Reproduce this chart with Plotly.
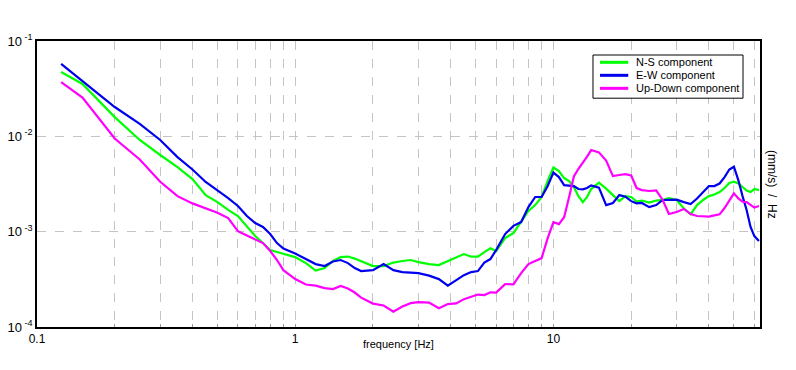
import plotly.graph_objects as go

freq = [0.124, 0.15, 0.2, 0.25, 0.3, 0.35, 0.4, 0.45, 0.5, 0.55, 0.6, 0.65, 0.7, 0.75, 0.8, 0.85, 0.9,
        1.0, 1.1, 1.2, 1.3, 1.4, 1.5, 1.6, 1.7, 1.8, 2.0, 2.2, 2.4, 2.6, 2.8, 3.0, 3.3, 3.6, 3.9, 4.2,
        4.5, 4.8, 5.1, 5.4, 5.7, 6.0, 6.5, 7.0, 7.5, 8.0, 8.5, 9.0, 9.5, 10, 10.5, 11, 11.5, 12, 12.5,
        13, 13.5, 14, 15, 16, 17, 18, 19, 20, 21, 22, 23.5, 25, 26.5, 28, 30, 32, 34, 36, 38, 40, 42,
        44, 46, 48, 50, 52, 54, 56, 58, 60, 62.5]

ns = [4.73e-2, 3.54e-2, 1.59e-2, 9.15e-3, 6.37e-3, 4.76e-3, 3.56e-3, 2.42e-3, 2.04e-3, 1.69e-3,
      1.46e-3, 1.15e-3, 8.99e-4, 7.59e-4, 6.41e-4, 6.11e-4, 5.82e-4, 5.41e-4, 4.68e-4, 3.91e-4,
      4.15e-4, 4.92e-4, 5.41e-4, 5.48e-4, 5.22e-4, 4.92e-4, 4.36e-4, 4.36e-4, 4.74e-4, 4.92e-4,
      5.04e-4, 4.80e-4, 4.57e-4, 4.46e-4, 4.92e-4, 5.35e-4, 5.82e-4, 5.46e-4, 5.46e-4, 6.11e-4,
      6.68e-4, 6.26e-4, 8.57e-4, 9.67e-4, 1.29e-3, 1.65e-3, 1.90e-3, 2.31e-3, 3.40e-3, 4.71e-3,
      4.32e-3, 3.65e-3, 3.40e-3, 2.94e-3, 2.36e-3, 2.04e-3, 2.31e-3, 2.80e-3, 3.26e-3, 2.83e-3,
      2.42e-3, 2.09e-3, 2.36e-3, 2.31e-3, 2.07e-3, 2.12e-3, 2.02e-3, 2.12e-3, 2.15e-3, 2.25e-3,
      2.15e-3, 1.75e-3, 1.53e-3, 1.90e-3, 2.15e-3, 2.36e-3, 2.45e-3, 2.60e-3, 2.87e-3, 3.24e-3,
      3.34e-3, 3.20e-3, 2.94e-3, 2.70e-3, 2.60e-3, 2.80e-3, 2.73e-3]

ew = [5.74e-2, 3.80e-2, 2.03e-2, 1.35e-2, 9.15e-3, 6.06e-3, 4.49e-3, 3.32e-3, 2.73e-3, 2.25e-3,
      1.86e-3, 1.46e-3, 1.23e-3, 1.12e-3, 9.44e-4, 7.59e-4, 6.65e-4, 5.89e-4, 5.16e-4, 4.57e-4,
      4.36e-4, 4.86e-4, 5.04e-4, 4.68e-4, 4.15e-4, 3.86e-4, 3.95e-4, 4.57e-4, 3.95e-4, 3.77e-4,
      3.72e-4, 3.68e-4, 3.46e-4, 3.18e-4, 2.72e-4, 3.11e-4, 3.50e-4, 3.77e-4, 3.86e-4, 4.74e-4,
      5.16e-4, 6.41e-4, 9.44e-4, 1.15e-3, 1.26e-3, 1.81e-3, 2.31e-3, 2.31e-3, 3.01e-3, 4.17e-3,
      3.74e-3, 3.08e-3, 3.05e-3, 3.01e-3, 2.80e-3, 2.78e-3, 2.87e-3, 3.06e-3, 2.90e-3, 1.90e-3,
      2.00e-3, 2.42e-3, 2.33e-3, 2.09e-3, 1.98e-3, 2.00e-3, 1.81e-3, 1.90e-3, 2.15e-3, 2.15e-3,
      2.17e-3, 2.04e-3, 1.95e-3, 2.23e-3, 2.57e-3, 3.01e-3, 3.01e-3, 3.20e-3, 3.74e-3, 4.49e-3,
      4.80e-3, 3.48e-3, 2.36e-3, 1.69e-3, 1.12e-3, 8.99e-4, 7.97e-4]

ud = [3.71e-2, 2.55e-2, 9.48e-3, 5.71e-3, 3.34e-3, 2.36e-3, 1.98e-3, 1.77e-3, 1.58e-3, 1.39e-3,
      1.01e-3, 9.10e-4, 8.36e-4, 7.59e-4, 6.26e-4, 5.04e-4, 3.95e-4, 3.18e-4, 2.79e-4, 2.72e-4,
      2.56e-4, 2.50e-4, 2.69e-4, 2.53e-4, 2.30e-4, 2.03e-4, 1.76e-4, 1.68e-4, 1.45e-4, 1.64e-4,
      1.78e-4, 1.82e-4, 1.80e-4, 1.57e-4, 1.74e-4, 1.77e-4, 1.96e-4, 2.08e-4, 2.19e-4, 2.16e-4,
      2.31e-4, 2.30e-4, 2.82e-4, 2.80e-4, 3.68e-4, 4.57e-4, 4.95e-4, 5.28e-4, 8.57e-4, 1.26e-3,
      1.20e-3, 1.42e-3, 2.31e-3, 3.79e-3, 4.57e-3, 5.25e-3, 6.12e-3, 7.18e-3, 6.79e-3, 5.57e-3,
      3.83e-3, 3.93e-3, 4.02e-3, 3.88e-3, 2.87e-3, 2.73e-3, 2.67e-3, 2.71e-3, 2.15e-3, 1.53e-3,
      1.61e-3, 1.73e-3, 1.53e-3, 1.46e-3, 1.44e-3, 1.44e-3, 1.48e-3, 1.52e-3, 1.77e-3, 2.15e-3,
      2.52e-3, 2.23e-3, 2.06e-3, 2.04e-3, 1.90e-3, 1.79e-3, 1.86e-3]

names = ["N-S component", "E-W component", "Up-Down component"]
colors = ["#00ff00", "#0000ee", "#ff00ff"]
series = [ns, ew, ud]

x_major = [0.1, 1, 10]
x_major_text = ["0.1", "1", "10"]
x_minor = [0.2, 0.3, 0.4, 0.5, 0.6, 0.7, 0.8, 0.9, 2, 3, 4, 5, 6, 7, 8, 9, 20, 30, 40, 50, 60]
y_ticks = [1e-4, 1e-3, 1e-2, 1e-1]
y_ticktext = ["10<sup> -4</sup>", "10<sup> -3</sup>", "10<sup> -2</sup>", "10<sup> -1</sup>"]

fig = go.Figure()
for name, col, vals in zip(names, colors, series):
    fig.add_trace(go.Scatter(x=freq, y=vals, mode="lines", name=name,
                             line=dict(color=col, width=2.2), showlegend=False))

grid_col = "#c4c4c4"
font = dict(family="Liberation Sans, Arial, sans-serif", size=12, color="black")
fig.update_layout(
    width=788, height=362,
    margin=dict(l=29, r=36, t=33, b=43, autoexpand=False),
    paper_bgcolor="white", plot_bgcolor="white",
    font=font,
    xaxis=dict(type="log", range=[-1, 1.8], tickvals=x_major, ticktext=x_major_text,
               automargin=False,
               showgrid=True, gridcolor=grid_col, griddash="dash", gridwidth=1,
               ticks="inside", ticklen=3, tickcolor="#999999",
               minor=dict(tickvals=x_minor, showgrid=True, gridcolor=grid_col, griddash="dash",
                          gridwidth=1, ticks="inside", ticklen=3, tickcolor="#999999"),
               showline=True, linecolor="black", linewidth=1.5, mirror=True,
               zeroline=False, tickfont=dict(size=12)),
    yaxis=dict(type="log", range=[-4, -1], tickvals=y_ticks, ticktext=y_ticktext,
               automargin=False,
               showgrid=True, gridcolor=grid_col, griddash="dash", gridwidth=1,
               ticks="", showline=True, linecolor="black", linewidth=1.5, mirror=True,
               zeroline=False, tickfont=dict(size=13)),
)

fig.add_annotation(text="frequency [Hz]", xref="paper", yref="paper", x=0.5, y=0,
                   yshift=-25, showarrow=False, font=dict(size=11))
fig.add_annotation(text="(mm/s)  /  Hz", xref="paper", yref="paper", x=1, y=0.5,
                   xshift=12, xanchor="center", showarrow=False, textangle=90, font=dict(size=12))

# legend box (manual, compact like the reference)
fig.add_shape(type="rect", xref="paper", yref="paper", x0=0.769, x1=0.9765, y0=0.8, y1=0.951,
              line=dict(color="black", width=1), fillcolor="white", layer="above")
for i, (name, col) in enumerate(zip(names, colors)):
    yy = 0.9255 - i * 0.0455
    fig.add_shape(type="line", xref="paper", yref="paper", x0=0.7787, x1=0.8178, y0=yy, y1=yy,
                  line=dict(color=col, width=3), layer="above")
    fig.add_annotation(text=name, xref="paper", yref="paper", x=0.826, y=yy, xanchor="left",
                       yanchor="middle", showarrow=False, font=dict(size=11))

fig.write_html("out.html")
